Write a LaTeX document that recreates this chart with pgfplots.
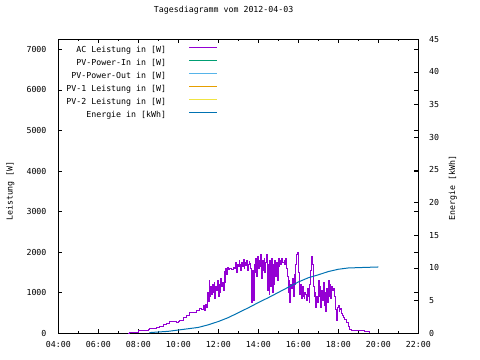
\documentclass[border=0pt]{standalone}
\usepackage{pgfplots}
\pgfplotsset{compat=1.18}
\usepackage{fontspec}
\setmainfont{DejaVu Sans Mono}
\definecolor{c1}{HTML}{9400D3}
\definecolor{c2}{HTML}{009E73}
\definecolor{c3}{HTML}{56B4E9}
\definecolor{c4}{HTML}{E69F00}
\definecolor{c5}{HTML}{F0E442}
\definecolor{c6}{HTML}{0072B2}
\begin{document}
\fontsize{6.2}{7.5}\selectfont
\begin{tikzpicture}
\pgfplotsset{
  common/.style={
    scale only axis, width=270pt, height=220.5pt,
    xmin=4, xmax=22,
    font=\fontsize{6.2}{7.5}\selectfont,
    /pgf/number format/assume math mode=true,
    /pgf/number format/1000 sep={},
    major tick length=3pt, minor tick length=1.5pt,
    tick style={black, line width=0.6pt},
    axis line style={line width=0.75pt},
  }
}
\begin{axis}[common,
  ymin=0, ymax=7250,
  ytick={0,1000,...,7000},
  xtick={4,6,...,22},
  minor xtick={5,7,...,21},
  xticklabels={04:00,06:00,08:00,10:00,12:00,14:00,16:00,18:00,20:00,22:00},
  xticklabel style={inner sep=0pt, yshift=-5.5pt},
  yticklabel style={inner sep=0pt, xshift=-8.7pt},
  title={Tagesdiagramm vom 2012-04-03},
  title style={at={(axis description cs:0.5,1)}, anchor=center, yshift=16pt, xshift=-11pt, inner sep=0pt},
  ylabel={Leistung [W]},
  ylabel style={at={(axis description cs:-0.1333,0.484)}, anchor=center, inner sep=0pt},
  legend style={draw=none, fill=none, at={(axis description cs:0.4436,1)}, anchor=north east,
    yshift=-4.5pt, inner sep=0pt, row sep=3.25pt, column sep=17pt,
    nodes={inner sep=0pt, text height=5pt, text depth=1.5pt}},
  legend plot pos=right,
  legend cell align=right,
  legend image code/.code={\draw[#1, line width=0.8pt] (0pt,1.5pt) -- (21pt,1.5pt);},
]
\addplot[c1, line width=0.6pt, const plot] coordinates {
(7.50,0) (7.55,20) (7.75,25) (8.00,65) (8.25,80) (8.50,100) (8.58,110) (8.75,130) (8.92,150)
(9.08,170) (9.25,210) (9.42,240) (9.58,285) (9.75,290) (9.92,270) (10.00,300) (10.08,330)
(10.25,385) (10.42,440) (10.58,510) (10.75,520) (10.92,575) (11.00,560) (11.08,620) (11.17,600)
(11.25,680) (11.33,560) (11.38,720) (11.42,640) (11.46,1000) (11.50,780) (11.54,1300) (11.58,900)
(11.62,1150) (11.67,950) (11.71,1200) (11.75,1000) (11.79,1250) (11.83,850) (11.88,1150)
(11.92,1050) (11.96,1300) (12.00,900) (12.04,1200) (12.08,1000) (12.12,1350) (12.17,1150)
(12.21,1250) (12.25,1050) (12.29,1520) (12.33,1250) (12.38,1600) (12.42,1450) (12.46,1620)
(12.50,1580) (12.58,1600) (12.67,1570) (12.75,1620) (12.83,1600) (12.88,1750) (12.92,1500)
(12.96,1700) (13.00,1650) (13.04,1800) (13.08,1700) (13.12,1550) (13.17,1750) (13.21,1650)
(13.25,1820) (13.29,1600) (13.33,1750) (13.38,1680) (13.42,1800) (13.46,1550) (13.50,1700)
(13.54,1780) (13.58,1720) (13.62,1600) (13.67,750) (13.71,1550) (13.75,800) (13.79,1700)
(13.83,1500) (13.88,1850) (13.92,1400) (13.96,1900) (14.00,1600) (14.04,1800) (14.08,1650)
(14.12,1950) (14.17,1350) (14.21,1800) (14.25,1550) (14.29,1850) (14.33,1500) (14.38,1750)
(14.42,1950) (14.46,1050) (14.50,1700) (14.54,950) (14.58,1800) (14.62,1150) (14.67,1850)
(14.71,1000) (14.75,1700) (14.79,1200) (14.83,1800) (14.88,1400) (14.92,1750) (14.96,1300)
(15.00,1850) (15.04,1650) (15.08,1800) (15.12,1700) (15.17,1850) (15.21,1750) (15.29,1800)
(15.33,1700) (15.38,1850) (15.42,1600) (15.46,1400) (15.50,1000) (15.54,1300) (15.58,750)
(15.62,1200) (15.67,1100) (15.71,1350) (15.75,900) (15.79,1450) (15.83,1200) (15.88,1700)
(15.92,1950) (15.96,2000) (16.00,1500) (16.04,1100) (16.08,950) (16.12,1200) (16.17,850)
(16.21,1150) (16.25,900) (16.29,850) (16.33,1000) (16.38,950) (16.42,800) (16.46,1100)
(16.50,900) (16.54,750) (16.58,1200) (16.62,1550) (16.67,1900) (16.71,1700) (16.75,1150)
(16.79,900) (16.83,1000) (16.88,650) (16.92,900) (16.96,750) (17.00,1300) (17.04,900)
(17.08,1150) (17.12,650) (17.17,1050) (17.21,800) (17.25,1250) (17.29,700) (17.33,1000)
(17.38,550) (17.42,1100) (17.46,750) (17.50,1300) (17.54,900) (17.58,1200) (17.62,850)
(17.67,1150) (17.71,1050) (17.75,1100) (17.79,950) (17.83,900) (17.88,600) (17.92,330)
(17.96,650) (18.00,700) (18.04,550) (18.08,600) (18.12,620) (18.17,500) (18.21,450)
(18.25,400) (18.33,350) (18.42,280) (18.50,180) (18.58,100) (18.67,80) (19.00,80)
(19.25,80) (19.30,40) (19.58,25)
};
\addlegendentry{AC Leistung in [W]}
\addlegendimage{c2}
\addlegendentry{PV-Power-In in [W]}
\addlegendimage{c3}
\addlegendentry{PV-Power-Out in [W]}
\addlegendimage{c4}
\addlegendentry{PV-1 Leistung in [W]}
\addlegendimage{c5}
\addlegendentry{PV-2 Leistung in [W]}
\addlegendimage{c6}
\addlegendentry{Energie in [kWh]}
\end{axis}
\begin{axis}[common,
  axis y line*=right, axis x line=none,
  ymin=0, ymax=45,
  ytick={0,5,...,45},
  yticklabel style={inner sep=0pt, xshift=8pt},
  ylabel={Energie [kWh]},
  ylabel style={at={(axis description cs:1.096,0.495)}, anchor=center, inner sep=0pt, rotate=0},
]
\addplot[c6, line width=0.75pt] coordinates {
(8.55,0.1) (9.0,0.2) (9.5,0.3) (10.0,0.5) (10.5,0.7) (11.0,0.9) (11.5,1.3) (12.0,1.8)
(12.5,2.4) (13.0,3.15) (13.5,3.9) (14.0,4.7) (14.5,5.45) (15.0,6.25) (15.5,7.05) (16.0,7.85)
(16.5,8.5) (17.0,8.95) (17.5,9.45) (18.0,9.8) (18.5,10.0) (19.0,10.05) (19.5,10.1) (20.0,10.15)
};
\end{axis}
\path ([shift={(-43.725pt,-20.025pt)}]current axis.south west) rectangle ++(360pt,270pt);
\end{tikzpicture}
\end{document}
